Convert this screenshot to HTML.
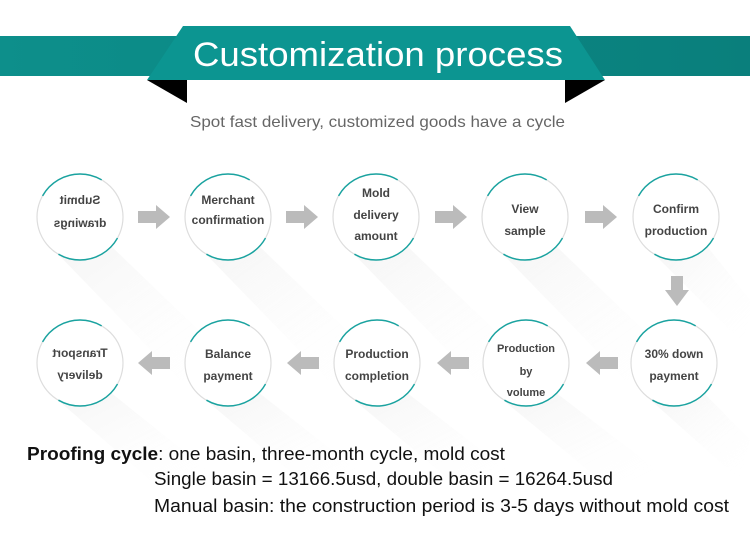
<!DOCTYPE html>
<html><head><meta charset="utf-8"><style>
html,body{margin:0;padding:0;background:#fff;}
svg{display:block;}
text{font-family:"Liberation Sans",sans-serif;}
</style></head><body>
<svg width="750" height="541" viewBox="0 0 750 541" xmlns="http://www.w3.org/2000/svg">
<defs>
<linearGradient id="sh" x1="0" y1="0" x2="1" y2="1">
<stop offset="0" stop-color="#ececec"/><stop offset="1" stop-color="#fff" stop-opacity="0"/>
</linearGradient>
<linearGradient id="band" x1="0" y1="0" x2="1" y2="0">
<stop offset="0" stop-color="#0d8f8b"/><stop offset="1" stop-color="#0a7f7c"/>
</linearGradient>
</defs>
<rect width="750" height="541" fill="#fff"/>
<rect x="0" y="36" width="750" height="40" fill="url(#band)"/>
<polygon points="147,80 187,80 187,103" fill="#000"/>
<polygon points="565,80 605,80 565,103" fill="#000"/>
<polygon points="183,26 570,26 605,80 147,80" fill="#0c9591"/>
<text x="193" y="66" font-size="34" fill="#fff" textLength="370" lengthAdjust="spacingAndGlyphs">Customization process</text>
<text x="190" y="127" font-size="16" fill="#666" textLength="375" lengthAdjust="spacingAndGlyphs">Spot fast delivery, customized goods have a cycle</text>

<g fill="url(#sh)" opacity="0.55">
<polygon points="110,245 52,248 180,380 240,370"/>
<polygon points="258,245 200,248 328,380 388,370"/>
<polygon points="406,245 348,248 476,380 536,370"/>
<polygon points="555,245 497,248 625,380 685,370"/>
<polygon points="706,245 648,248 750,350 750,300"/>
<polygon points="110,392 52,395 150,480 220,480"/>
<polygon points="258,392 200,395 300,480 370,480"/>
<polygon points="406,392 348,395 450,480 520,480"/>
<polygon points="555,392 497,395 600,480 670,480"/>
<polygon points="703,392 645,395 740,480 750,440"/>
</g>

<g fill="#fff" stroke="#ddd" stroke-width="1.2">
<circle cx="80" cy="217" r="43"/><circle cx="228" cy="217" r="43"/><circle cx="376" cy="217" r="43"/><circle cx="525" cy="217" r="43"/><circle cx="676" cy="217" r="43"/>
<circle cx="80" cy="363" r="43"/><circle cx="228" cy="363" r="43"/><circle cx="377" cy="363" r="43"/><circle cx="526" cy="363" r="43"/><circle cx="674" cy="363" r="43"/>
</g>
<g fill="none" stroke="#1aa3a0" stroke-width="1.5" stroke-dasharray="0 22 68 67 68 45">
<circle cx="80" cy="217" r="43"/><circle cx="228" cy="217" r="43"/><circle cx="376" cy="217" r="43"/><circle cx="525" cy="217" r="43"/><circle cx="676" cy="217" r="43"/>
<circle cx="80" cy="363" r="43"/><circle cx="228" cy="363" r="43"/><circle cx="377" cy="363" r="43"/><circle cx="526" cy="363" r="43"/><circle cx="674" cy="363" r="43"/>
</g>

<g fill="#bbb">
<polygon points="138,211 156,211 156,205 170,217 156,229 156,223 138,223"/>
<polygon points="286,211 304,211 304,205 318,217 304,229 304,223 286,223"/>
<polygon points="435,211 453,211 453,205 467,217 453,229 453,223 435,223"/>
<polygon points="585,211 603,211 603,205 617,217 603,229 603,223 585,223"/>
<polygon points="671,276 683,276 683,290 689,290 677,306 665,290 671,290"/>
<polygon points="170,357 152,357 152,351 138,363 152,375 152,369 170,369"/>
<polygon points="319,357 301,357 301,351 287,363 301,375 301,369 319,369"/>
<polygon points="469,357 451,357 451,351 437,363 451,375 451,369 469,369"/>
<polygon points="618,357 600,357 600,351 586,363 600,375 600,369 618,369"/>
</g>

<g font-size="12" fill="#444" font-weight="bold" text-anchor="middle">
<g transform="translate(160,0) scale(-1,1)">
<text x="80" y="204">Submit</text><text x="80" y="227">drawings</text>
<text x="80" y="357">Transport</text><text x="80" y="379">delivery</text>
</g>
<text x="228" y="204">Merchant</text><text x="228" y="224">confirmation</text>
<text x="376" y="197">Mold</text><text x="376" y="219">delivery</text><text x="376" y="240">amount</text>
<text x="525" y="213">View</text><text x="525" y="235">sample</text>
<text x="676" y="213">Confirm</text><text x="676" y="235">production</text>
<text x="228" y="358">Balance</text><text x="228" y="380">payment</text>
<text x="377" y="358">Production</text><text x="377" y="380">completion</text>
<text x="526" y="352" font-size="11">Production</text><text x="526" y="375" font-size="11">by</text><text x="526" y="396" font-size="11">volume</text>
<text x="674" y="358">30% down</text><text x="674" y="380">payment</text>
</g>

<g font-size="18" fill="#111">
<text x="27" y="460" textLength="478" lengthAdjust="spacingAndGlyphs"><tspan font-weight="bold">Proofing cycle</tspan>: one basin, three-month cycle, mold cost</text>
<text x="154" y="485" textLength="459" lengthAdjust="spacingAndGlyphs">Single basin = 13166.5usd, double basin = 16264.5usd</text>
<text x="154" y="512" textLength="575" lengthAdjust="spacingAndGlyphs">Manual basin: the construction period is 3-5 days without mold cost</text>
</g>
</svg>
</body></html>
